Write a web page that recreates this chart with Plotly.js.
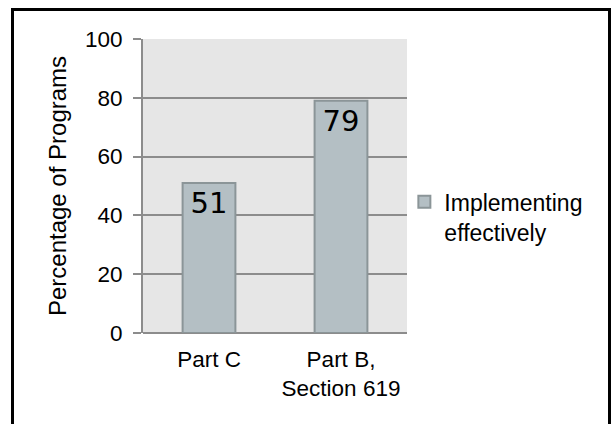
<!DOCTYPE html>
<html>
<head>
<meta charset="utf-8">
<script src="https://cdn.plot.ly/plotly-3.0.1.min.js"></script>
<style>
  html, body { margin: 0; padding: 0; background: #fff; }
  #wrap { position: relative; width: 615px; height: 424px; overflow: hidden; }
  #chart { position: absolute; left: 0; top: 0; width: 615px; height: 424px; }
  #frame { position: absolute; left: 11px; top: 8px; width: 600px; height: 460px;
           border: 3px solid #000; box-sizing: border-box; pointer-events: none; }
</style>
</head>
<body>
<div id="wrap">
  <div id="chart"></div>
  <div id="frame"></div>
</div>
<script>
const categories = ["Part C", "Part B,<br>Section 619"];
const values = [51, 79];
const seriesName = "Implementing<br>effectively";
const yTicks = [0, 20, 40, 60, 80, 100];
const yTitle = "Percentage of Programs";

const trace = {
  type: "bar",
  x: categories,
  y: values,
  name: seriesName,
  text: values.map(String),
  textposition: "inside",
  insidetextanchor: "end",
  textangle: 0,
  textfont: { family: "DejaVu Sans", size: 29, color: "#000" },
  marker: { color: "#b4bfc4", line: { color: "#8b9598", width: 2 } },
  showlegend: true,
  hoverinfo: "none"
};

const layout = {
  width: 615,
  height: 424,
  margin: { l: 143, r: 208, t: 39, b: 91, pad: 0 },
  paper_bgcolor: "#ffffff",
  plot_bgcolor: "#e6e6e6",
  bargap: 0.6,
  showlegend: true,
  font: { family: "Liberation Sans, Arial, sans-serif", size: 23, color: "#000" },
  xaxis: {
    type: "category",
    showgrid: false,
    zeroline: false,
    showline: false,
    ticks: "",
    ticklabelstandoff: 10,
    tickfont: { size: 22.5 }
  },
  yaxis: {
    range: [0, 100],
    tickvals: yTicks,
    ticktext: yTicks.map(String),
    showgrid: true,
    gridcolor: "#8c8c8c",
    gridwidth: 2,
    zeroline: true,
    zerolinecolor: "#8c8c8c",
    zerolinewidth: 2,
    showline: true,
    linecolor: "#8c8c8c",
    linewidth: 2,
    ticks: "outside",
    ticklen: 8,
    tickwidth: 2,
    tickcolor: "#8c8c8c",
    ticklabelstandoff: 6,
    tickfont: { size: 22.5 },
    title: { text: yTitle, font: { size: 24 }, standoff: 12 }
  },
  legend: {
    x: 0.99, xanchor: "left",
    y: 0.395, yanchor: "middle",
    valign: "top",
    bgcolor: "rgba(0,0,0,0)",
    font: { size: 23 },
    itemclick: false
  }
};

Plotly.newPlot("chart", [trace], layout, { staticPlot: true, displayModeBar: false });
</script>
</body>
</html>
